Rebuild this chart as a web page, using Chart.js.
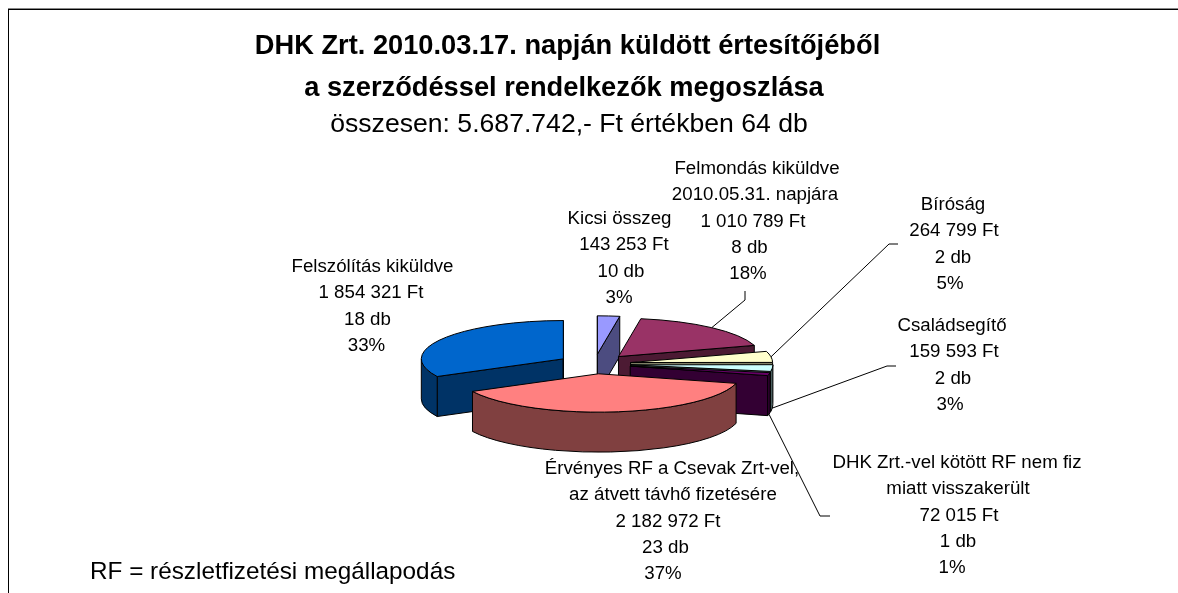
<!DOCTYPE html>
<html>
<head>
<meta charset="utf-8">
<style>
  html, body { margin: 0; padding: 0; background: #fff; overflow: hidden; }
  #wrap { position: relative; width: 1178px; height: 593px; }
</style>
<script src="https://cdn.jsdelivr.net/npm/chart.js@4"></script>
</head>
<body>
<div id="wrap"><canvas id="chart" width="1178" height="593"></canvas></div>
<script>
// Data
const categories = ['Kicsi összeg', 'Felmondás kiküldve', 'Bíróság', 'Családsegítő',
    'DHK Zrt.-vel kötött RF nem fiz', 'Érvényes RF a Csevak Zrt-vel,', 'Felszólítás kiküldve'];
const secondLines = [[], ['2010.05.31. napjára'], [], [], ['miatt visszakerült'], ['az átvett távhő fizetésére'], []];
const amounts = [143253, 1010789, 264799, 159593, 72015, 2182972, 1854321];
const counts = [10, 8, 2, 2, 1, 23, 18];
const percents = [3, 18, 5, 3, 1, 37, 33];
const titleLines = ['DHK Zrt. 2010.03.17. napján küldött értesítőjéből', 'a szerződéssel rendelkezők megoszlása'];
const subtitle = 'összesen: 5.687.742,- Ft értékben 64 db';
const footnote = 'RF = részletfizetési megállapodás';

// Styles
const topColors = ['#9999FF', '#993366', '#FFFFCC', '#CCFFFF', '#660066', '#FF8080', '#0066CC'];
const wallColors = ['#4C4C80', '#4C1A33', '#808066', '#668080', '#330033', '#804040', '#003366'];
const FONT = '"Liberation Sans", Arial, sans-serif';

// 3D look
const RADIUS = 142;
const EXPLODE = 36.5;
const TILT = 0.27;
const DEPTH = 40;
const DRAW_ORDER = [0, 1, 2, 3, 4, 6, 5]; // back to front

// Data label layout: center x of every line, y of the first line
const labelX = [
    [619.5, 624, 621, 619],
    [757, 755, 753, 749.5, 748],
    [953, 954, 953, 950],
    [952, 954, 953, 950],
    [957, 958, 959, 958, 952],
    [672, 673, 668, 665.5, 663],
    [372.5, 371, 367.5, 366.5]
];
const labelY = [219, 169, 205, 326, 463, 469, 267];
const LINE_STEP = 26.3;

// Leader lines: slice index, elbow, end, start on the bottom rim or not
const leaders = [
    { i: 1, elbow: [745, 300], end: [745, 291], bottom: false },
    { i: 2, elbow: [889, 244], end: [898, 244], bottom: false },
    { i: 3, elbow: [887, 366], end: [896, 366], bottom: true },
    { i: 4, elbow: [820, 516], end: [830, 516], bottom: true }
];

function formatFt(v) {
    return String(v).replace(/\B(?=(\d{3})+$)/g, ' ') + ' Ft';
}

// Screen position of a slice: centre moved out along its middle angle, y squashed
function sliceGeom(arc) {
    const { x, y, startAngle, endAngle, outerRadius } = arc.getProps(['x', 'y', 'startAngle', 'endAngle', 'outerRadius'], true);
    const mid = (startAngle + endAngle) / 2;
    const ox = x + Math.cos(mid) * EXPLODE;
    const oy = y + Math.sin(mid) * EXPLODE * TILT;
    const at = a => [ox + Math.cos(a) * outerRadius, oy + Math.sin(a) * outerRadius * TILT];
    return { cx: x, cy: y, ox, oy, r: outerRadius, start: startAngle, end: endAngle, mid, at };
}

function drawWalls(ctx, g, color) {
    ctx.fillStyle = color;
    ctx.strokeStyle = '#000';
    ctx.lineWidth = 1;
    const m = g.at(g.mid);

    // flat cut faces, only the ones turned to the viewer
    [g.start, g.end].forEach(a => {
        const p = g.at(a);
        const dx = p[0] - g.ox;
        const visible = Math.abs(dx) < 0.5 || m[1] < g.oy + (p[1] - g.oy) / dx * (m[0] - g.ox);
        if (!visible) return;
        ctx.beginPath();
        ctx.moveTo(g.ox, g.oy);
        ctx.lineTo(p[0], p[1]);
        ctx.lineTo(p[0], p[1] + DEPTH);
        ctx.lineTo(g.ox, g.oy + DEPTH);
        ctx.closePath();
        ctx.fill();
        ctx.stroke();
    });

    // rim, only the near half of the ellipse
    const a0 = Math.max(g.start, 0);
    const a1 = Math.min(g.end, Math.PI);
    if (a1 > a0) {
        const ry = g.r * TILT;
        ctx.beginPath();
        ctx.ellipse(g.ox, g.oy, g.r, ry, 0, a0, a1);
        ctx.ellipse(g.ox, g.oy + DEPTH, g.r, ry, 0, a1, a0, true);
        ctx.closePath();
        ctx.fill();
        ctx.stroke();
    }
}

function drawTop(ctx, arc, g) {
    ctx.save();
    ctx.translate(g.ox, g.oy);
    ctx.scale(1, TILT);
    ctx.translate(-g.cx, -g.cy);
    arc.draw(ctx);
    ctx.restore();

    ctx.strokeStyle = '#000';
    ctx.lineWidth = 1;
    ctx.beginPath();
    ctx.moveTo(g.ox, g.oy);
    ctx.ellipse(g.ox, g.oy, g.r, g.r * TILT, 0, g.start, g.end);
    ctx.closePath();
    ctx.stroke();
}

const tiltedPie = {
    id: 'tiltedPie',
    beforeDatasetDraw(chart) {
        const ctx = chart.ctx;
        const arcs = chart.getDatasetMeta(0).data;
        ctx.save();
        DRAW_ORDER.forEach(i => {
            const g = sliceGeom(arcs[i]);
            drawWalls(ctx, g, wallColors[i]);
            drawTop(ctx, arcs[i], g);
        });
        // leader lines
        ctx.strokeStyle = '#000';
        ctx.lineWidth = 1;
        leaders.forEach(l => {
            const g = sliceGeom(arcs[l.i]);
            const p = g.at(g.mid);
            ctx.beginPath();
            ctx.moveTo(p[0], p[1] + (l.bottom ? DEPTH : 0));
            ctx.lineTo(l.elbow[0], l.elbow[1]);
            ctx.lineTo(l.end[0], l.end[1]);
            ctx.stroke();
        });
        ctx.restore();
        return false;
    }
};

const chartText = {
    id: 'chartText',
    afterDraw(chart) {
        const ctx = chart.ctx;
        ctx.save();
        // frame, only top and left are in the picture
        ctx.fillStyle = '#888';
        ctx.fillRect(8, 8, 1170, 1);
        ctx.fillStyle = '#000';
        ctx.fillRect(8, 9, 1170, 1);
        ctx.fillRect(8, 9, 1, 584);

        ctx.textAlign = 'center';
        ctx.textBaseline = 'middle';
        ctx.font = 'bold 27.25px ' + FONT;
        ctx.fillText(titleLines[0], 567.5, 46);
        ctx.fillText(titleLines[1], 564, 88);
        ctx.font = '26.6px ' + FONT;
        ctx.fillText(subtitle, 569, 125);

        ctx.font = '18.7px ' + FONT;
        categories.forEach((name, i) => {
            const lines = [name, ...secondLines[i], formatFt(amounts[i]), counts[i] + ' db', percents[i] + '%'];
            lines.forEach((t, n) => ctx.fillText(t, labelX[i][n], labelY[i] + n * LINE_STEP));
        });

        ctx.textAlign = 'left';
        ctx.font = '24.3px ' + FONT;
        ctx.fillText(footnote, 90, 572);
        ctx.restore();
    }
};

new Chart(document.getElementById('chart'), {
    type: 'pie',
    plugins: [tiltedPie, chartText],
    data: {
        labels: categories,
        datasets: [{
            data: amounts,
            backgroundColor: topColors,
            borderWidth: 0
        }]
    },
    options: {
        responsive: false,
        animation: false,
        radius: RADIUS,
        layout: { padding: { left: 11, top: 135 } },
        plugins: { legend: { display: false }, tooltip: { enabled: false }, title: { display: false } }
    }
});
</script>
</body>
</html>
